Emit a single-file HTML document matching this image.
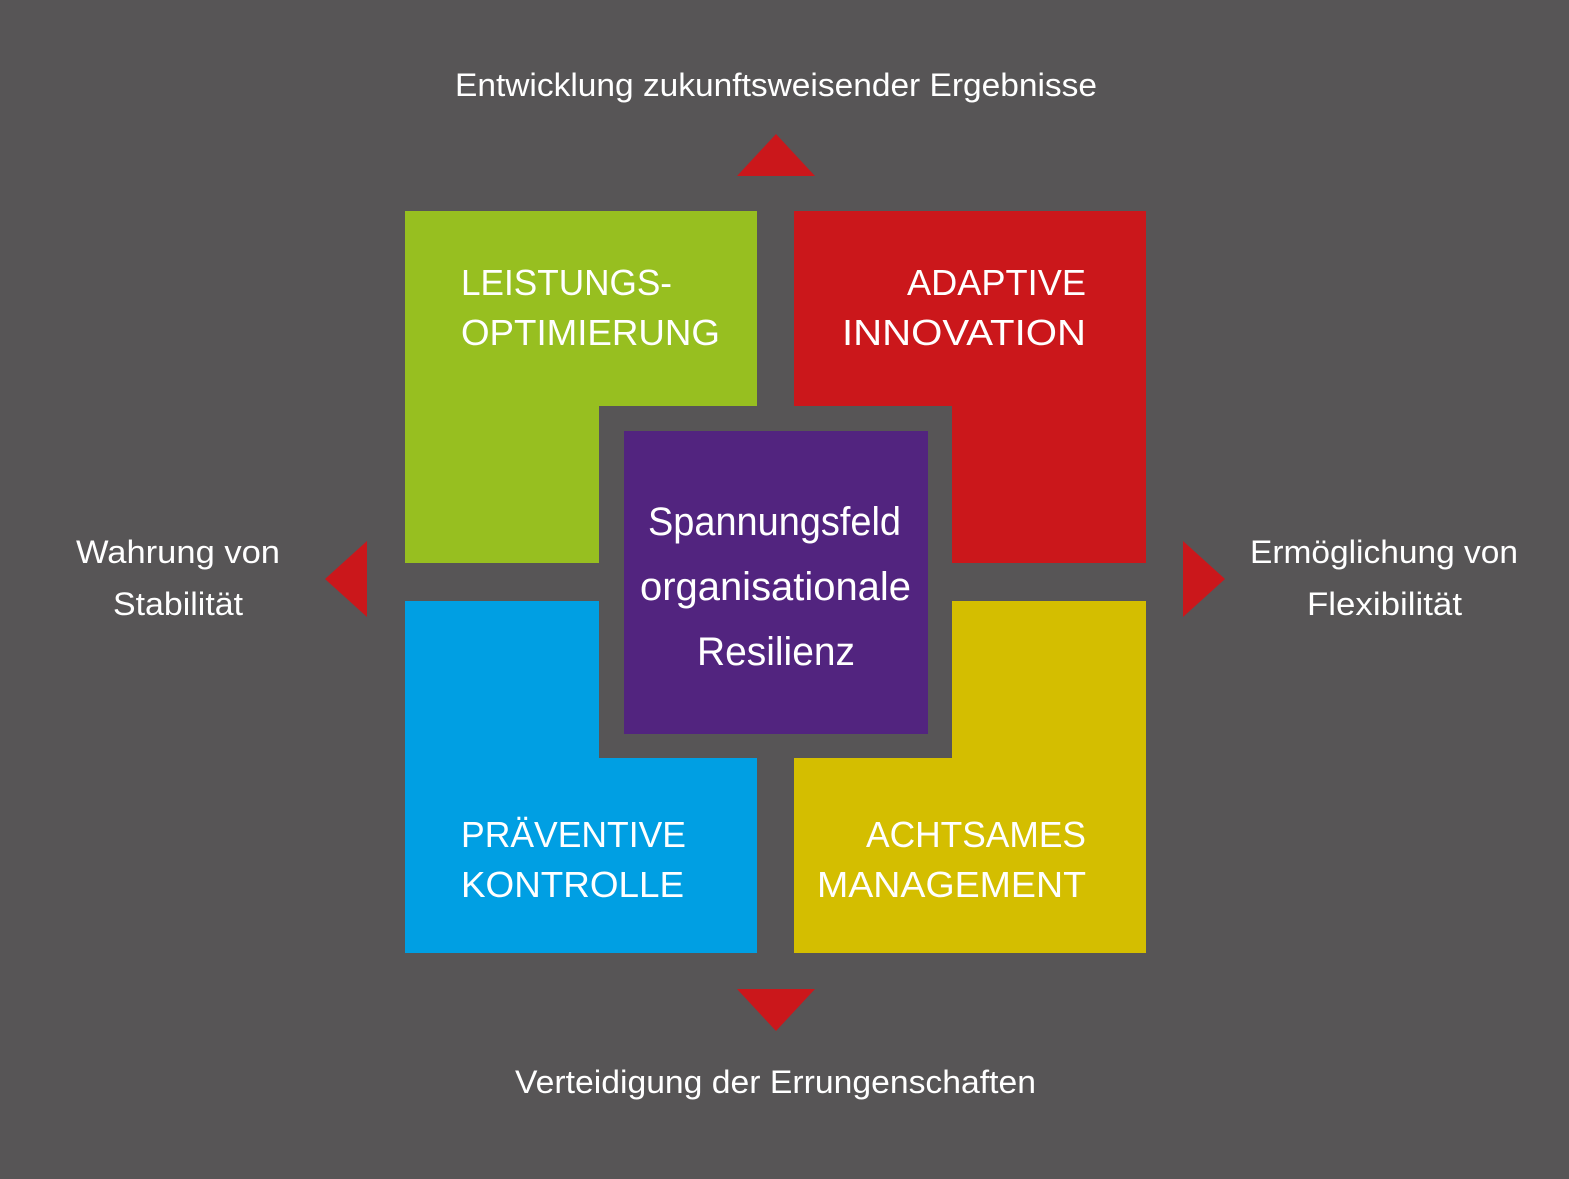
<!DOCTYPE html>
<html><head><meta charset="utf-8"><style>
html,body{margin:0;padding:0;background:#575556;}
svg{display:block}
text{font-family:"Liberation Sans",sans-serif;fill:#fff;}
</style></head><body>
<svg width="1569" height="1179" viewBox="0 0 1569 1179" xmlns="http://www.w3.org/2000/svg">
<rect width="1569" height="1179" fill="#575556"/>
<rect x="405" y="211" width="352" height="352" fill="#97BF20"/>
<rect x="794" y="211" width="352" height="352" fill="#CB171B"/>
<rect x="405" y="601" width="352" height="352" fill="#009FE3"/>
<rect x="794" y="601" width="352" height="352" fill="#D4BE00"/>
<rect x="599" y="406" width="353" height="352" fill="#575556"/>
<rect x="624" y="431" width="304" height="303" fill="#52247F"/>
<polygon points="737,176 815,176 776,134" fill="#CB171B"/>
<polygon points="737,989 815,989 776,1031" fill="#CB171B"/>
<polygon points="367,541 367,617 325,579" fill="#CB171B"/>
<polygon points="1183,541 1183,617 1225,579" fill="#CB171B"/>
<g font-size="32">
<text x="455" y="96" textLength="642" lengthAdjust="spacingAndGlyphs">Entwicklung zukunftsweisender Ergebnisse</text>
<text x="515" y="1093" textLength="521" lengthAdjust="spacingAndGlyphs">Verteidigung der Errungenschaften</text>
<text x="76" y="563" textLength="204" lengthAdjust="spacingAndGlyphs">Wahrung von</text>
<text x="113" y="615" textLength="130" lengthAdjust="spacingAndGlyphs">Stabilität</text>
<text x="1250" y="563" textLength="268" lengthAdjust="spacingAndGlyphs">Ermöglichung von</text>
<text x="1307" y="615" textLength="155" lengthAdjust="spacingAndGlyphs">Flexibilität</text>
</g>
<g font-size="36">
<text x="461" y="295" textLength="211" lengthAdjust="spacingAndGlyphs">LEISTUNGS-</text>
<text x="461" y="345" textLength="259" lengthAdjust="spacingAndGlyphs">OPTIMIERUNG</text>
<text x="907" y="295" textLength="179" lengthAdjust="spacingAndGlyphs">ADAPTIVE</text>
<text x="842" y="345" textLength="244" lengthAdjust="spacingAndGlyphs">INNOVATION</text>
<text x="461" y="847" textLength="225" lengthAdjust="spacingAndGlyphs">PRÄVENTIVE</text>
<text x="461" y="897" textLength="223" lengthAdjust="spacingAndGlyphs">KONTROLLE</text>
<text x="866" y="847" textLength="220" lengthAdjust="spacingAndGlyphs">ACHTSAMES</text>
<text x="817" y="897" textLength="269" lengthAdjust="spacingAndGlyphs">MANAGEMENT</text>
</g>
<g font-size="40">
<text x="648" y="535" textLength="253" lengthAdjust="spacingAndGlyphs">Spannungsfeld</text>
<text x="640" y="600" textLength="271" lengthAdjust="spacingAndGlyphs">organisationale</text>
<text x="697" y="665" textLength="158" lengthAdjust="spacingAndGlyphs">Resilienz</text>
</g>
</svg>
</body></html>
